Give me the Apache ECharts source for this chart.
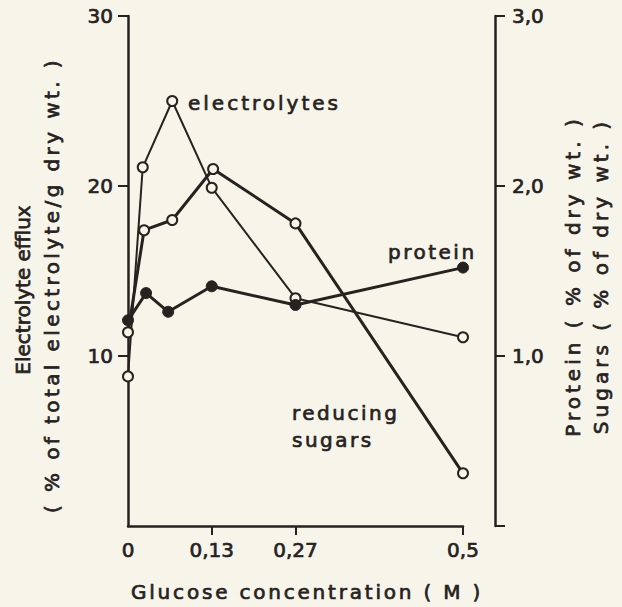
<!DOCTYPE html>
<html>
<head>
<meta charset="utf-8">
<script src="https://cdn.jsdelivr.net/npm/echarts@6/dist/echarts.min.js"></script>
<style>
  html, body { margin: 0; padding: 0; background: #f7f5ea; }
  #chart { width: 622px; height: 607px; }
</style>
</head>
<body>
<div id="chart"></div>
<script>
// ---- data ----
const electrolyteX = [0, 0.022, 0.066, 0.125, 0.25, 0.5];
const electrolyteY = [8.8, 21.1, 25.0, 19.9, 13.4, 11.1];      // % of total electrolyte / g dry wt.
const sugarsX = [0, 0.024, 0.066, 0.127, 0.25, 0.5];
const sugarsY = [1.14, 1.74, 1.80, 2.10, 1.78, 0.31];          // % of dry wt.
const proteinX = [0, 0.027, 0.060, 0.125, 0.25, 0.5];
const proteinY = [1.21, 1.37, 1.26, 1.41, 1.30, 1.52];         // % of dry wt.

const xTickValues = [0, 0.125, 0.25, 0.5];
const xTickLabels = ['0', '0,13', '0,27', '0,5'];
const leftTickValues = [10, 20, 30];
const leftTickLabels = ['10', '20', '30'];
const rightTickValues = [0, 1, 2, 3];
const rightLabelValues = [1, 2, 3];
const rightTickLabels = ['1,0', '2,0', '3,0'];

const ink = '#26221f';
const paper = '#f7f5ea';
const FONT = '"DejaVu Sans", sans-serif';
const BOLDEN = 0.7;

const pairs = (xs, ys) => xs.map((x, i) => [x, ys[i]]);

const chart = echarts.init(document.getElementById('chart'), null, { renderer: 'svg' });

const txt = (text, x, y, align, rot) => ({
  type: 'text', x: x, y: y, rotation: rot || 0, z: 10,
  style: {
    text: text, fill: ink, fontSize: 20, fontFamily: FONT,
    stroke: ink, lineWidth: BOLDEN,
    align: align, textAlign: align, verticalAlign: 'middle', textVerticalAlign: 'middle'
  }
});

const labelStyle = { color: ink, fontSize: 20, fontFamily: FONT, textBorderColor: ink, textBorderWidth: BOLDEN };

chart.setOption({
  backgroundColor: paper,
  animation: false,
  grid: { left: 128, right: 159, top: 16, bottom: 81 },
  xAxis: {
    type: 'value', min: 0, max: 0.5,
    axisLine: { show: true, lineStyle: { color: ink, width: 2.5 } },
    axisTick: { show: true, customValues: [0.125, 0.25, 0.5], length: 9, lineStyle: { color: ink, width: 2 } },
    axisLabel: Object.assign({
      customValues: xTickValues, margin: 14,
      formatter: v => xTickLabels[xTickValues.indexOf(v)]
    }, labelStyle),
    splitLine: { show: false }
  },
  yAxis: [
    {
      type: 'value', min: 0, max: 30, position: 'left',
      axisLine: { show: true, lineStyle: { color: ink, width: 2.5 } },
      axisTick: { show: true, customValues: leftTickValues, length: 10, lineStyle: { color: ink, width: 2 } },
      axisLabel: Object.assign({
        customValues: leftTickValues, margin: 15,
        formatter: v => leftTickLabels[leftTickValues.indexOf(v)]
      }, labelStyle),
      splitLine: { show: false }
    },
    {
      type: 'value', min: 0, max: 3, position: 'right', offset: 32,
      axisLine: { show: true, lineStyle: { color: ink, width: 2.5 } },
      axisTick: { show: true, customValues: rightTickValues, length: 10, lineStyle: { color: ink, width: 2 } },
      axisLabel: Object.assign({
        customValues: rightLabelValues, margin: 17,
        formatter: v => rightTickLabels[rightLabelValues.indexOf(v)]
      }, labelStyle),
      splitLine: { show: false }
    }
  ],
  series: [
    {
      name: 'electrolytes', type: 'line', yAxisIndex: 0, data: pairs(electrolyteX, electrolyteY),
      symbol: 'circle', symbolSize: 10, z: 3,
      lineStyle: { color: ink, width: 2 },
      itemStyle: { color: paper, borderColor: ink, borderWidth: 2 }
    },
    {
      name: 'reducing sugars', type: 'line', yAxisIndex: 1, data: pairs(sugarsX, sugarsY),
      symbol: 'circle', symbolSize: 10, z: 4,
      lineStyle: { color: ink, width: 3 },
      itemStyle: { color: paper, borderColor: ink, borderWidth: 2 }
    },
    {
      name: 'protein', type: 'line', yAxisIndex: 1, data: pairs(proteinX, proteinY),
      symbol: 'circle', symbolSize: 11, z: 5,
      lineStyle: { color: ink, width: 3 },
      itemStyle: { color: ink, borderColor: ink, borderWidth: 1 }
    }
  ],
  graphic: [
    txt('electrolytes', 188, 103, 'left'),
    txt('protein', 388, 252, 'left'),
    txt('reducing', 292, 413, 'left'),
    txt('sugars', 292, 440, 'left'),
    txt('Glucose concentration ( M )', 307, 592, 'center'),
    txt('Electrolyte efflux', 23, 290, 'center', Math.PI / 2),
    txt('( % of total electrolyte/g dry wt. )', 52, 285, 'center', Math.PI / 2),
    txt('Protein ( % of dry wt. )', 573, 276, 'center', Math.PI / 2),
    txt('Sugars ( % of dry wt. )', 601, 276, 'center', Math.PI / 2)
  ]
});

// the original hand-set lettering is widely tracked; match each label's measured width
const spacing = {
  'electrolytes': 3,
  'protein': 2.5,
  'reducing': 2.5,
  'sugars': 2.5,
  'Glucose concentration ( M )': 2.8,
  'Electrolyte efflux': 0,
  '( % of total electrolyte/g dry wt. )': 3.4,
  'Protein ( % of dry wt. )': 4,
  'Sugars ( % of dry wt. )': 4
};
function spaceLetters() {
  document.querySelectorAll('#chart text').forEach(t => {
    const s = spacing[t.textContent.trim()];
    if (s) t.style.letterSpacing = s + 'px';
  });
}
spaceLetters();
chart.on('finished', spaceLetters);
</script>
</body>
</html>
